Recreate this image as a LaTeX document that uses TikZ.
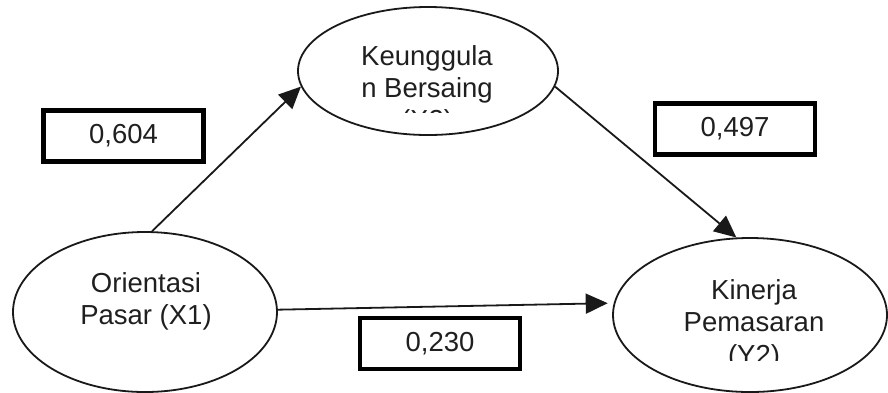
\documentclass[tikz,border=0pt]{standalone}
\usepackage{fontspec}
\setmainfont{Liberation Sans}
\usetikzlibrary{arrows.meta,shapes.geometric}
\begin{document}
\begin{tikzpicture}[x=1pt,y=-1pt,
  latent/.style={draw=black!90, line width=1.8pt, ellipse, inner sep=0pt},
  coef/.style={draw=black, line width=4.5pt, minimum width=160pt, minimum height=51pt,
    inner sep=0pt, text=black!88, font=\fontsize{27.5}{32}\selectfont},
  lbl/.style={anchor=base, inner sep=0pt, text=black!88, font=\fontsize{27.5}{32}\selectfont},
  conn/.style={draw=black!90, line width=1.8pt, -{Triangle[length=22pt,width=20pt]}}]
\useasboundingbox (0,0) rectangle (888,392);

% latent variables
\node[latent, minimum width=260pt, minimum height=128pt] (kb) at (428,71) {};
\node[latent, minimum width=264pt, minimum height=160pt] (or) at (145,312) {};
\node[latent, minimum width=274pt, minimum height=154pt] (kp) at (750,315) {};

% labels, cut off at the lower part of the ellipse
\begin{scope}
  \clip (300,0) rectangle (556,112);
  \node[lbl] (kb1) at (427,65) {Keunggula};
  \node[lbl] (kb2) at (427,97) {n Bersaing};
  \node[lbl] (kb3) at (427,129) {(X2)};
\end{scope}
\node[lbl] (or1) at (146,292) {Orientasi};
\node[lbl] (or2) at (146,324) {Pasar (X1)};
\begin{scope}
  \clip (614,240) rectangle (886,360);
  \node[lbl] (kp1) at (754,299) {Kinerja};
  \node[lbl] (kp2) at (754,331) {Pemasaran};
  \node[lbl] (kp3) at (754,364) {(Y2)};
\end{scope}

% paths
\draw[conn] (or.85) -- (kb.187);
\draw[conn] (kb.-7) -- (kp.100);
\draw[conn, shorten >=6pt] (or.1) -- (kp.175);

% path coefficients
\node[coef] (c1) at (123.5,136) {0,604};
\node[coef] (c2) at (735,129) {0,497};
\node[coef] (c3) at (440,343.5) {0,230};
\end{tikzpicture}
\end{document}
